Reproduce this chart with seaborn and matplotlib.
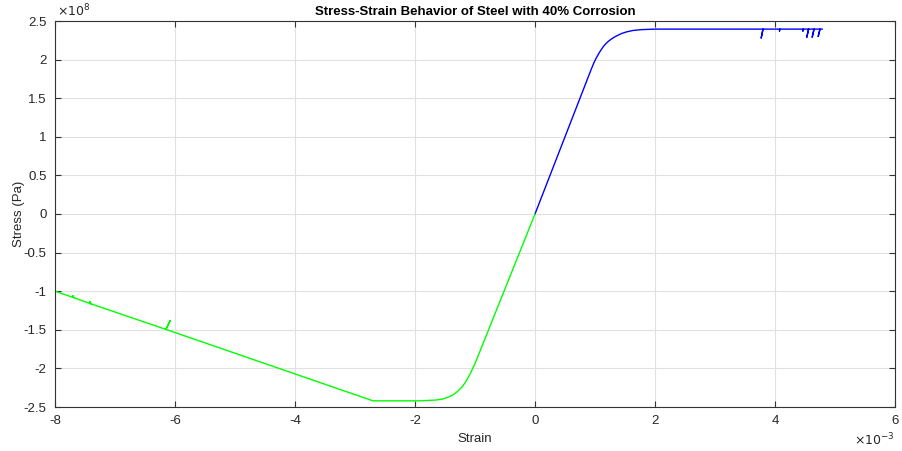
import matplotlib
matplotlib.use("Agg")
import matplotlib.pyplot as plt
import seaborn as sns
import pandas as pd

# Strain in units of 1e-3, stress in units of 1e8 Pa
tension_strain = [0.0, 0.94, 0.98, 1.02, 1.06, 1.10, 1.14, 1.18, 1.22, 1.27, 1.32, 1.38,
                  1.45, 1.53, 1.63, 1.77, 2.00, 3.00, 3.80, 3.77, 3.80, 4.08, 4.075, 4.08,
                  4.47, 4.465, 4.47, 4.56, 4.53, 4.56, 4.65, 4.62, 4.65, 4.75, 4.72, 4.75, 4.79]
tension_stress = [0.0, 1.88, 1.955, 2.02, 2.075, 2.125, 2.17, 2.205, 2.235, 2.265, 2.29, 2.315,
                  2.34, 2.36, 2.377, 2.388, 2.395, 2.395, 2.395, 2.28, 2.395, 2.395, 2.37, 2.395,
                  2.395, 2.37, 2.395, 2.395, 2.29, 2.395, 2.395, 2.29, 2.395, 2.395, 2.30, 2.395,
                  2.395]

compression_strain = [0.0, -0.97, -1.01, -1.05, -1.09, -1.13, -1.17, -1.21, -1.26, -1.31,
                      -1.37, -1.44, -1.53, -1.65, -1.92, -2.30, -2.70, -6.15, -6.08, -6.15,
                      -7.40, -7.42, -7.40, -7.69, -7.70, -7.69, -8.00]
compression_stress = [0.0, -1.88, -1.955, -2.02, -2.085, -2.14, -2.19, -2.235, -2.275, -2.31,
                      -2.345, -2.37, -2.395, -2.41, -2.42, -2.42, -2.42, -1.495, -1.38, -1.495,
                      -1.164, -1.135, -1.164, -1.083, -1.06, -1.083, -1.00]

x_ticks = [-8, -6, -4, -2, 0, 2, 4, 6]
y_ticks = [-2.5, -2, -1.5, -1, -0.5, 0, 0.5, 1, 1.5, 2, 2.5]

tension = pd.DataFrame({"strain": tension_strain, "stress": tension_stress})
compression = pd.DataFrame({"strain": compression_strain, "stress": compression_stress})

sns.set_style("white")
plt.rcParams["font.family"] = ["Liberation Sans", "DejaVu Sans"]
plt.rcParams["axes.unicode_minus"] = False

fig = plt.figure(figsize=(9.03, 4.51), dpi=100)
ax = fig.add_axes([55 / 903, 1 - 407 / 451, 840 / 903, 386 / 451])

sns.lineplot(data=tension, x="strain", y="stress", sort=False, estimator=None,
             color=(0, 0, 1), linewidth=1.0, ax=ax)
sns.lineplot(data=compression, x="strain", y="stress", sort=False, estimator=None,
             color=(0, 1, 0), linewidth=1.0, ax=ax)

ax.set_xlim(-8, 6)
ax.set_ylim(-2.5, 2.5)
ax.set_xticks(x_ticks)
ax.set_yticks(y_ticks)
ax.set_xticklabels([f"{v:g}" for v in x_ticks])
ax.set_yticklabels([f"{v:g}" for v in y_ticks])
ax.grid(True, color="#e1e1e1", linewidth=0.8)
ax.set_axisbelow(True)
for s in ax.spines.values():
    s.set_color("#333333")
    s.set_linewidth(0.8)
ax.tick_params(direction="in", length=4, width=0.8, colors="#333333",
               labelcolor="#262626", labelsize=9.5, pad=6, top=True, right=True,
               bottom=True, left=True)

ax.set_xlabel("Strain", fontsize=9.5, color="#262626", labelpad=4)
ax.set_ylabel("Stress (Pa)", fontsize=9.5, color="#262626", labelpad=-1)
ax.set_title("Stress-Strain Behavior of Steel with 40% Corrosion",
             fontsize=9.5, fontweight="bold", color="#000000", pad=4)

ax.text(0.002, 1.005, r"$\times10^{8}$", transform=ax.transAxes, fontsize=9,
        color="#262626", ha="left", va="bottom")
ax.text(1.0, -0.065, r"$\times10^{-3}$", transform=ax.transAxes, fontsize=9,
        color="#262626", ha="right", va="top")

fig.savefig("out.png", dpi=100, facecolor="white")
